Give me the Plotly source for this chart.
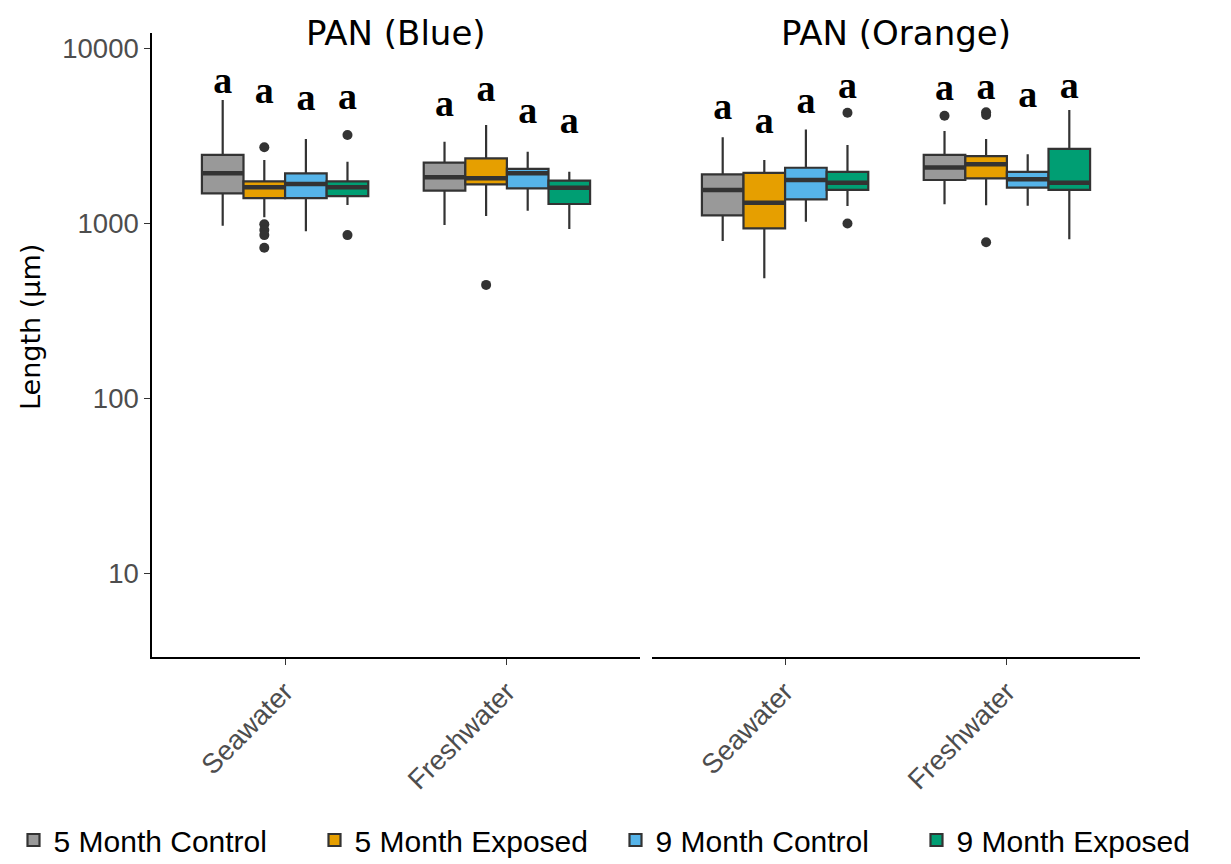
import plotly.graph_objects as go

# ---------------- data ----------------
panels = ["PAN (Blue)", "PAN (Orange)"]
habitats = ["Seawater", "Freshwater"]
groups = ["5 Month Control", "5 Month Exposed", "9 Month Control", "9 Month Exposed"]
colors = ["#999999", "#E69F00", "#56B4E9", "#009E73"]

# order: panel -> habitat -> group  (16 boxes)
lower_whisker = [966, 1079, 897, 1267,   975, 1097, 1175, 925,
                 789, 483, 1016, 1251,   1279, 1262, 1256, 807]
q1 = [1479, 1389, 1389, 1426,   1531, 1663, 1578, 1285,
      1107, 933, 1365, 1545,    1762, 1800, 1592, 1545]
median = [1923, 1600, 1671, 1600,   1824, 1800, 1923, 1592,
          1545, 1306, 1762, 1700,   2080, 2164, 1782, 1700]
q3 = [2449, 1730, 1923, 1730,   2213, 2344, 2041, 1745,
      1896, 1937, 2070, 1963,   2449, 2414, 1963, 2651]
upper_whisker = [5040, 2291, 3020, 2240,   2917, 3630, 2553, 1963,
                 3092, 2291, 3429, 2792,   3356, 3020, 2474, 4426]
outliers = [[], [2712, 984, 912, 853, 722], [], [3184, 853],
            [], [443], [], [],
            [], [], [], [4264, 995],
            [4103], [4150, 4300, 776], [], []]
letters = ["a"] * 16
letter_y = [6280, 5510, 5040, 5090,   4627, 5625, 4235, 3713,
            4430, 3713, 4830, 5890,   5750, 5810, 5220, 5890]

y_ticks = [10, 100, 1000, 10000]

# ---------------- figure ----------------
fig = go.Figure()
box_w = 0.75 / len(groups)
INK = "#333333"

for g, (gname, col) in enumerate(zip(groups, colors)):
    shown = False
    for p in range(len(panels)):
        xa = "x" if p == 0 else "x2"
        ya = "y" if p == 0 else "y2"
        for h in range(len(habitats)):
            k = p * 8 + h * 4 + g
            pos = h + (g - 1.5) * box_w
            fig.add_trace(go.Box(
                x=[pos], q1=[q1[k]], median=[median[k]], q3=[q3[k]],
                lowerfence=[lower_whisker[k]], upperfence=[upper_whisker[k]],
                width=box_w, whiskerwidth=0, boxpoints=False,
                fillcolor=col, line=dict(color=INK, width=2.2),
                name=gname, legendgroup=gname, showlegend=not shown,
                xaxis=xa, yaxis=ya, hoverinfo="skip"))
            shown = True
            # thicker median bar
            fig.add_trace(go.Scatter(
                x=[pos - box_w / 2, pos + box_w / 2], y=[median[k], median[k]],
                mode="lines", line=dict(color=INK, width=4.5),
                showlegend=False, legendgroup=gname, xaxis=xa, yaxis=ya,
                hoverinfo="skip"))
            if outliers[k]:
                fig.add_trace(go.Scatter(
                    x=[pos] * len(outliers[k]), y=outliers[k], mode="markers",
                    marker=dict(color=INK, size=10),
                    showlegend=False, legendgroup=gname, xaxis=xa, yaxis=ya,
                    hoverinfo="skip"))

# significance letters
for p in range(len(panels)):
    xa = "x" if p == 0 else "x2"
    ya = "y" if p == 0 else "y2"
    xs, ys, ts = [], [], []
    for h in range(len(habitats)):
        for g in range(len(groups)):
            k = p * 8 + h * 4 + g
            xs.append(h + (g - 1.5) * box_w)
            ys.append(letter_y[k])
            ts.append(letters[k])
    fig.add_trace(go.Scatter(
        x=xs, y=ys, text=ts, mode="text", textposition="middle center",
        textfont=dict(family="Liberation Serif", size=38, color="black",
                      weight="bold"),
        showlegend=False, xaxis=xa, yaxis=ya, hoverinfo="skip"))

W, H = 1231, 864
yr = [0.52, 4.086]
ydom = [1 - 657 / H, 1 - 33 / H]
xdom1 = [152 / W, 640 / W]
xdom2 = [652 / W, 1140 / W]

tickfont = dict(family="Liberation Sans, Arial", size=27.5, color="#4D4D4D")
xcommon = dict(range=[-0.6, 1.6], tickvals=[0, 1], ticktext=habitats,
               tickangle=-45, tickfont=tickfont, showline=True,
               linecolor="black", linewidth=1.5, ticks="outside", ticklen=6,
               tickcolor=INK, showgrid=False, zeroline=False)

title_font = dict(family="DejaVu Sans", size=34, color="black")

fig.update_layout(
    width=W, height=H,
    margin=dict(l=0, r=0, t=0, b=0, autoexpand=False),
    paper_bgcolor="white", plot_bgcolor="white",
    boxmode="overlay",
    xaxis=dict(domain=xdom1, anchor="y", **xcommon),
    xaxis2=dict(domain=xdom2, anchor="y2", **xcommon),
    yaxis=dict(type="log", range=yr, domain=ydom, anchor="x",
               tickvals=y_ticks, ticktext=[str(v) for v in y_ticks],
               tickfont=tickfont, showline=True, linecolor="black",
               linewidth=1.5, ticks="outside", ticklen=6, tickcolor=INK,
               showgrid=False, zeroline=False),
    yaxis2=dict(type="log", range=yr, domain=ydom, anchor="x2",
                matches="y", showline=False, showticklabels=False,
                ticks="", showgrid=False, zeroline=False),
    legend=dict(orientation="h", x=0.5, xanchor="center", y=1 - 840 / H,
                yanchor="middle", font=dict(family="Liberation Sans, Arial",
                                            size=30, color="black"),
                traceorder="normal", entrywidth=256, entrywidthmode="pixels",
                itemwidth=30),
    annotations=[
        dict(text=panels[0], x=sum(xdom1) / 2, y=1 - 33 / H, xref="paper",
             yref="paper", showarrow=False, xanchor="center", yanchor="middle",
             font=title_font),
        dict(text=panels[1], x=sum(xdom2) / 2, y=1 - 33 / H, xref="paper",
             yref="paper", showarrow=False, xanchor="center", yanchor="middle",
             font=title_font),
        dict(text="Length (μm)", x=30 / W, y=1 - 327 / H, xref="paper",
             yref="paper", showarrow=False, xanchor="center", yanchor="middle",
             textangle=-90, font=dict(family="DejaVu Sans", size=27,
                                      color="black")),
    ],
)

fig.write_html("out.html")
